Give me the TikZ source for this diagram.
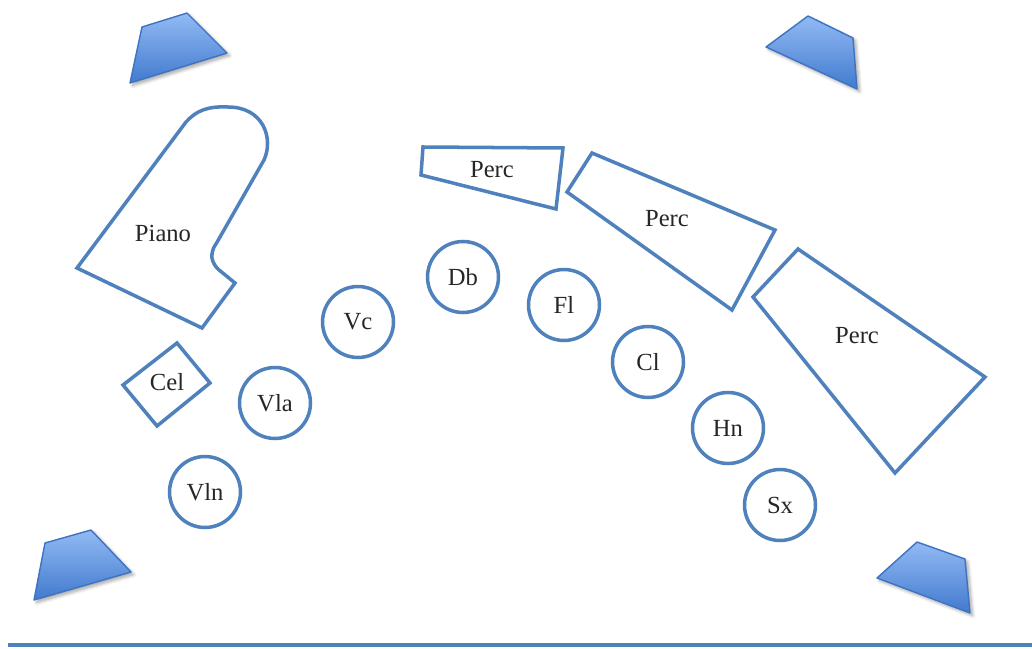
\documentclass[tikz,border=0pt]{standalone}
\usepackage{fontspec}
\setmainfont{Liberation Serif}
\usetikzlibrary{shadows.blur}
\definecolor{stageblue}{RGB}{79,129,189}
\definecolor{spktop}{RGB}{146,186,244}
\definecolor{spkbot}{RGB}{66,122,206}
\definecolor{spkline}{RGB}{62,114,194}

\tikzset{
  player/.style={circle, draw=stageblue, line width=2pt, minimum size=1.42cm,
    inner sep=0pt, text=black!85, font=\fontsize{14}{16}\selectfont},
  outline/.style={draw=stageblue, line width=2pt, line join=miter},
  tag/.style={inner sep=1pt, text=black!85, font=\fontsize{14}{16}\selectfont},
  speaker/.style={top color=spktop, bottom color=spkbot, draw=spkline,
    line width=0.8pt, line join=round,
    blur shadow={shadow xshift=1.5pt, shadow yshift=-1.5pt,
      shadow blur steps=6, shadow opacity=35}}
}

\begin{document}
\begin{tikzpicture}[x=0.02cm, y=-0.02cm]
  \useasboundingbox (0,0) rectangle (1032,649);

  % Speakers in the four corners.
  \shade[speaker] (142,27) -- (187,13) -- (227,53) -- (130,83) -- cycle;
  \shade[speaker] (766,47) -- (808,16) -- (853,38) -- (857,89) -- cycle;
  \shade[speaker] (45,543) -- (91,530) -- (131,572) -- (34,600) -- cycle;
  \shade[speaker] (877,578) -- (917,542) -- (965,559) -- (970,613) -- cycle;

  % Front edge of the stage.
  \draw[stageblue, line width=2.8pt] (8,645) -- (1032,645);

  % Piano.
  \draw[outline] (77,268) -- (202,328) -- (235,283)
    [rounded corners=4pt] -- (213,265) -- (211,251) [sharp corners] -- (216,244)
    -- (264,160) .. controls (274,138) and (263,107) .. (228,107)
    .. controls (207,106) and (196,111) .. (186,122) -- cycle;
  \node[tag] (piano) at (163,233) {Piano};

  % Celesta.
  \draw[outline] (177,343) -- (210,383) -- (157,426) -- (123,385) -- cycle;
  \node[tag] (cel) at (167,382) {Cel};

  % Percussion set-ups.
  \draw[outline] (423,147) -- (563,148) -- (556,209) -- (421,175) -- cycle;
  \node[tag] (perca) at (492,170) {Perc};
  \draw[outline] (592,153) -- (775,230) -- (732,310) -- (567,192) -- cycle;
  \node[tag] (percb) at (667,219) {Perc};
  \draw[outline] (798,249) -- (985,377) -- (895,473) -- (753,297) -- cycle;
  \node[tag] (percc) at (857,336) {Perc};

  % Players on the arc.
  \foreach \name/\x/\y in {Vln/205/492, Vla/275/403, Vc/358/322, Db/463/277,
      Fl/564/305, Cl/648/362, Hn/728/428, Sx/780/505} {
    \node[player] (\name) at (\x,\y) {\name};
  }
\end{tikzpicture}
\end{document}
